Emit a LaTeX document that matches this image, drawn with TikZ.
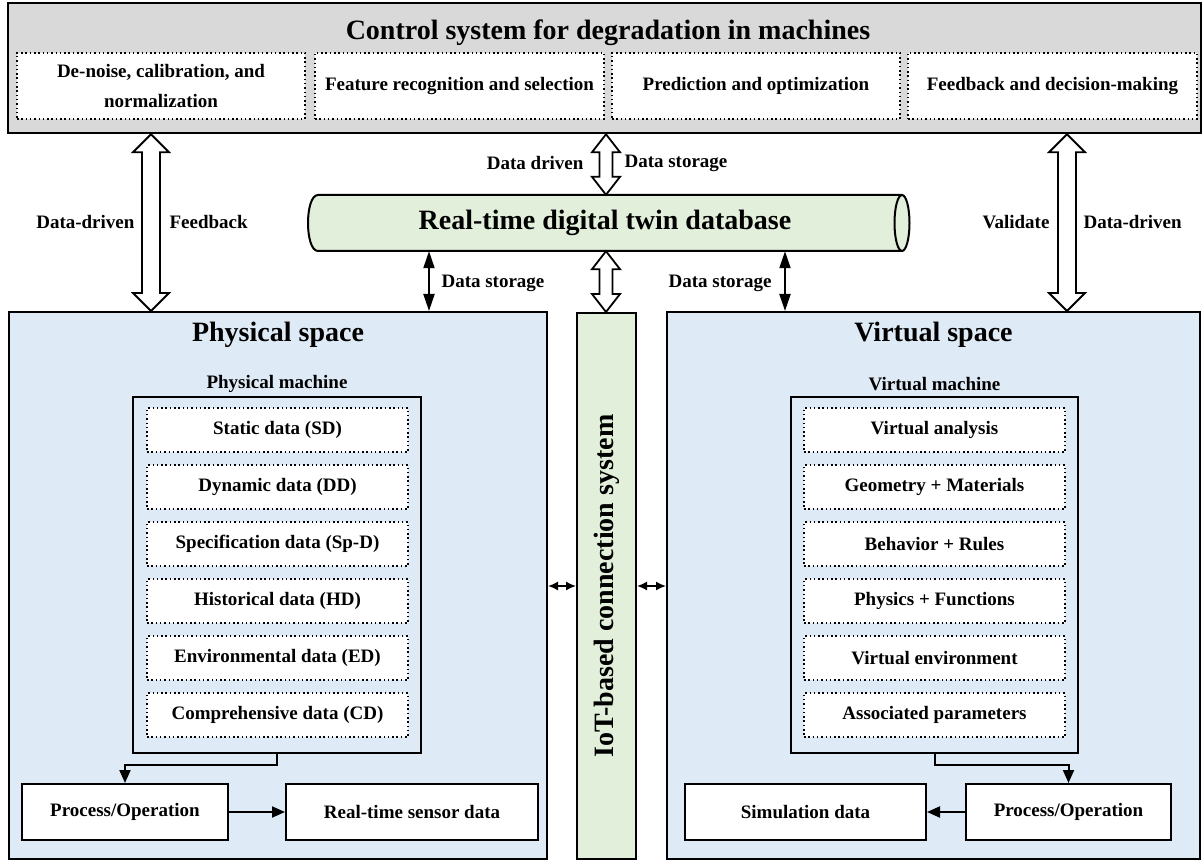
\documentclass[tikz,border=0pt]{standalone}
\usepackage{fontspec}
\setmainfont{Liberation Serif}
\usetikzlibrary{arrows.meta, calc}
\definecolor{ctlgray}{HTML}{D9D9D9}
\definecolor{dbgreen}{HTML}{E2EFDA}
\definecolor{spaceblue}{HTML}{DEEBF7}
% hollow vertical double arrow between two points:
% #1 upper end, #2 lower end, #3 head half width, #4 shaft half width, #5 head length
\newcommand\hollowpair[5]{%
  \draw[hollowline] let \p1=#1, \p2=#2 in
    (\x1,\y1) -- (\x1+#3,\y1-#5) -- (\x1+#4,\y1-#5) -- (\x1+#4,\y2+#5)
    -- (\x1+#3,\y2+#5) -- (\x1,\y2) -- (\x1-#3,\y2+#5) -- (\x1-#4,\y2+#5)
    -- (\x1-#4,\y1-#5) -- (\x1-#3,\y1-#5) -- cycle;}
\begin{document}
\begin{tikzpicture}[x=1pt, y=-1pt,
  txt/.style={font=\fontsize{19}{23}\selectfont\bfseries},
  bigtxt/.style={font=\fontsize{28}{32}\selectfont\bfseries},
  dotbox/.style={draw, line width=1.5pt, dash pattern=on 1.5pt off 2.8pt, fill=white,
    inner sep=0pt, txt, align=center},
  solidbox/.style={draw, line width=2pt, fill=white, inner sep=0pt, txt},
  panel/.style={draw, line width=2pt, inner sep=0pt},
  hollowline/.style={draw, fill=white, line width=1.8pt},
  storearrow/.style={line width=2pt, {Triangle[length=17pt,width=11pt]}-{Triangle[length=17pt,width=11pt]}},
  flowarrow/.style={line width=2pt, -{Triangle[length=13pt,width=11pt]}},
  linkarrow/.style={line width=1.6pt, {Latex[length=10pt,width=9pt]}-{Latex[length=10pt,width=9pt]}}
]
\useasboundingbox (0,0) rectangle (1203,861);

% ---- control system ----
\node[panel, fill=ctlgray, line width=2.5pt, minimum width=1193, minimum height=130] (ctl) at (604.5,68) {};
\node[bigtxt] (ctltitle) at (608,33) {Control system for degradation in machines};
\node[dotbox, font=\fontsize{19}{30}\selectfont\bfseries, minimum width=288, minimum height=66] (f1) at (161,86) {De-noise, calibration, and\\normalization};
\node[dotbox, minimum width=289, minimum height=66] (f2) at (459.5,86) {Feature recognition and selection};
\node[dotbox, minimum width=288, minimum height=66] (f3) at (756,86) {Prediction and optimization};
\node[dotbox, minimum width=289, minimum height=66] (f4) at (1052.5,86) {Feedback and decision-making};

% ---- database cylinder ----
\path[fill=dbgreen] (318,195) -- (902,195) -- (902,251) -- (318,251)
  .. controls (304.67,251) and (304.67,195) .. (318,195) -- cycle;
\fill[dbgreen] (902,223) ellipse[x radius=7.5, y radius=28];
\draw[line width=2pt] (902,195) -- (318,195) .. controls (304.67,195) and (304.67,251) .. (318,251) -- (902,251);
\draw[line width=2pt] (902,223) ellipse[x radius=7.5, y radius=28];
\node[bigtxt, minimum width=594, minimum height=56, inner sep=0pt] (db) at (605,223) {Real-time digital twin database};

% ---- spaces ----
\node[panel, fill=spaceblue, minimum width=538, minimum height=547] (phys) at (278,585.5) {};
\node[panel, fill=spaceblue, minimum width=533, minimum height=547] (virt) at (933.5,585.5) {};
\node[panel, fill=dbgreen, minimum width=59, minimum height=546] (iot) at (606.5,586) {};
\node[bigtxt, rotate=90] (iottxt) at (606.5,586) {IoT-based connection system};

\node[bigtxt] (phystitle) at (278,335) {Physical space};
\node[bigtxt] (virttitle) at (933.5,335) {Virtual space};
\node[txt] (pmlabel) at (277,384) {Physical machine};
\node[txt] (vmlabel) at (934.5,384) {Virtual machine};

\node[panel, minimum width=288, minimum height=356] (pm) at (277,575) {};
\node[panel, minimum width=287, minimum height=356] (vm) at (934.5,575) {};

\foreach \i/\y/\ptext/\vtext in {
  1/430/Static data (SD)/Virtual analysis,
  2/487/Dynamic data (DD)/Geometry + Materials,
  3/544/Specification data (Sp-D)/Behavior + Rules,
  4/601/Historical data (HD)/Physics + Functions,
  5/658/Environmental data (ED)/Virtual environment,
  6/715/Comprehensive data (CD)/Associated parameters}{
  \node[dotbox, minimum width=261, minimum height=44] (p\i) at (277.5,\y) {\ptext};
  \node[dotbox, minimum width=261, minimum height=44] (v\i) at (934.5,\y) {\vtext};
}

\node[solidbox, minimum width=206, minimum height=56] (pp) at (125,812) {Process/Operation};
\node[solidbox, minimum width=252, minimum height=56] (ps) at (412,812) {Real-time sensor data};
\node[solidbox, minimum width=205, minimum height=56] (vp) at (1068.5,812) {Process/Operation};
\node[solidbox, minimum width=241, minimum height=56] (vs) at (805.5,812) {Simulation data};

% ---- flows inside the spaces ----
\draw[flowarrow] (pm.south) -- ++(0,11) -| (pp.north);
\draw[flowarrow] (pp.east) -- (ps.west);
\draw[flowarrow] (vm.south) -- ++(0,11) -| (vp.north);
\draw[flowarrow] (vp.west) -- (vs.east);

% ---- links to the IoT bar ----
\draw[linkarrow] (iot.west -| phys.east) -- (iot.west);
\draw[linkarrow] (iot.east) -- (iot.east -| virt.west);

% ---- storage links ----
\coordinate (dsl) at (429,0);
\coordinate (dsr) at (785,0);
\draw[storearrow] (db.south -| dsl) -- (phys.north -| dsl);
\draw[storearrow] (db.south -| dsr) -- (virt.north -| dsr);
\node[txt, anchor=west] (dsltxt) at (438,283) {Data storage};
\node[txt, anchor=east] (dsrtxt) at (775,283) {Data storage};

% ---- hollow double arrows ----
\coordinate (al) at (151,0);
\coordinate (ar) at (1067,0);
\coordinate (am) at (606,0);
\hollowpair{(ctl.south -| al)}{(phys.north -| al)}{18pt}{9pt}{18pt}
\hollowpair{(ctl.south -| ar)}{(virt.north -| ar)}{18pt}{9pt}{18pt}
\hollowpair{(ctl.south -| am)}{(db.north -| am)}{14pt}{6.5pt}{18pt}
\hollowpair{(db.south -| am)}{(iot.north -| am)}{14pt}{6.5pt}{18pt}

\node[txt, anchor=east] (alt1) at (138,222) {Data-driven};
\node[txt, anchor=west] (alt2) at (166,222) {Feedback};
\node[txt, anchor=east] (art1) at (1053,222) {Validate};
\node[txt, anchor=west] (art2) at (1080,222) {Data-driven};
\node[txt, anchor=east] (att1) at (587,163) {Data driven};
\node[txt, anchor=west] (att2) at (621,163) {Data storage};
\end{tikzpicture}
\end{document}
